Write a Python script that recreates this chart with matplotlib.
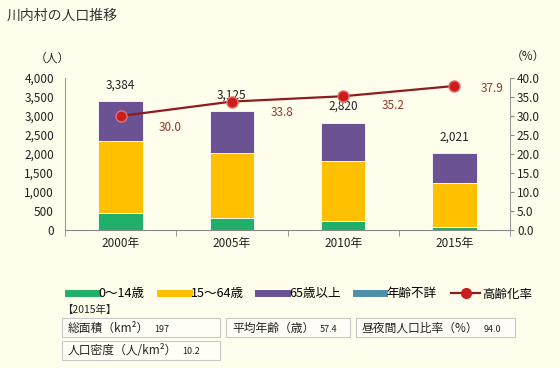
import matplotlib
matplotlib.use('Agg')
import matplotlib.pyplot as plt
from matplotlib.lines import Line2D
from matplotlib.patches import Rectangle
import numpy as np

plt.rcParams['font.family'] = ['Noto Sans CJK JP', 'DejaVu Sans']

# data
years = ['2000年', '2005年', '2010年', '2015年']
age_0_14 = [455, 306, 245, 70]
age_15_64 = [1890, 1733, 1558, 1155]
age_65 = [1039, 1086, 1017, 796]
age_unknown = [0, 0, 0, 0]
totals = [3384, 3125, 2820, 2021]
aging_rate = [30.0, 33.8, 35.2, 37.9]
left_ticks = [0, 500, 1000, 1500, 2000, 2500, 3000, 3500, 4000]
right_ticks = [0, 5, 10, 15, 20, 25, 30, 35, 40]
info_labels = ['総面積（km²）', '平均年齢（歳）', '昼夜間人口比率（%）', '人口密度（人/km²）']
info_values = ['197', '57.4', '94.0', '10.2']

bg = '#FFFDEC'
c_green = '#20B06A'
c_yellow = '#FFC000'
c_purple = '#6A5293'
c_teal = '#4E8EA8'
c_line = '#8E1C1C'
c_mark = '#C81E1E'

W, H = 560, 368
fig = plt.figure(figsize=(5.6, 3.68), dpi=100, facecolor=bg)
ax = fig.add_axes([65 / W, 1 - 230 / H, 445 / W, 152 / H], facecolor=bg)

x = np.arange(len(years))
bw = 0.4
b0 = np.array(age_0_14)
b1 = b0 + np.array(age_15_64)
b2 = b1 + np.array(age_65)
ax.bar(x, age_0_14, bw, color=c_green, edgecolor='white', linewidth=0.6)
ax.bar(x, age_15_64, bw, bottom=b0, color=c_yellow, edgecolor='white', linewidth=0.6)
ax.bar(x, age_65, bw, bottom=b1, color=c_purple, edgecolor='white', linewidth=0.6)
ax.bar(x, age_unknown, bw, bottom=b2, color=c_teal)
for xi, t in zip(x, totals):
    ax.annotate(f'{t:,}', (xi, t), xytext=(0, 7), textcoords='offset points',
                ha='center', va='bottom', fontsize=8.5, color='#222222')

ax.set_xlim(-0.5, len(years) - 0.5)
ax.set_ylim(0, 4000)
ax.set_yticks(left_ticks)
ax.set_yticklabels([f'{v:,}' for v in left_ticks], fontsize=8.5, color='#222222')
ax.tick_params(axis='y', length=0, pad=8)
ax.set_xticks(x)
ax.set_xticklabels(years, fontsize=8.5, color='#222222')
ax.tick_params(axis='x', length=0, pad=5)
ax.set_xticks(np.arange(-0.5, len(years)), minor=True)
ax.tick_params(axis='x', which='minor', length=4, color='#888888')
for s in ['top', 'right']:
    ax.spines[s].set_visible(False)
ax.spines['left'].set_color('#999999')
ax.spines['bottom'].set_color('#888888')

ax2 = ax.twinx()
ax2.set_ylim(0, 40)
ax2.set_yticks(right_ticks)
ax2.set_yticklabels([f'{v:.1f}' for v in right_ticks], fontsize=8.5, color='#222222')
ax2.tick_params(axis='y', length=3, color='#888888', pad=2)
for s in ['top', 'left', 'bottom']:
    ax2.spines[s].set_visible(False)
ax2.spines['right'].set_color('#999999')
ax2.plot(x, aging_rate, color=c_line, lw=1.6, marker='o', markersize=8,
         markerfacecolor=c_mark, markeredgecolor='#E87070', markeredgewidth=1, zorder=5)
offsets = [(36, -8), (36, -8), (36, -7), (27, -2)]
for xi, r, off in zip(x, aging_rate, offsets):
    ax2.annotate(f'{r:.1f}', (xi, r), xytext=off, textcoords='offset points',
                 ha='center', va='center', fontsize=8.5, color='#8E3A2A')

fig.text(7 / W, 1 - 16 / H, '川内村の人口推移', fontsize=10, color='#333333', va='center')
fig.text(52 / W, 1 - 58 / H, '（人）', fontsize=8.5, color='#222222', ha='center', va='center')
fig.text(528 / W, 1 - 56 / H, '（%）', fontsize=8.5, color='#222222', ha='center', va='center')

handles = [
    Line2D([], [], color=c_green, lw=5),
    Line2D([], [], color=c_yellow, lw=5),
    Line2D([], [], color=c_purple, lw=5),
    Line2D([], [], color=c_teal, lw=5),
    Line2D([], [], color=c_line, lw=1.6, marker='o', markersize=7, markerfacecolor=c_mark,
           markeredgecolor=c_mark),
]
labels = ['0～14歳', '15～64歳', '65歳以上', '年齢不詳', '高齢化率']
fig.legend(handles, labels, loc='center', bbox_to_anchor=(300 / W, 1 - 294 / H), ncol=5,
           frameon=False, fontsize=9, handlelength=2.3, handletextpad=0.15,
           columnspacing=1.2)

fig.text(62 / W, 1 - 310 / H, '【2015年】', fontsize=7.5, color='#222222', va='center')
boxes = [(62, 318, 158), (226, 318, 124), (356, 318, 159), (62, 341, 158)]
for (bx, by, bwid), lab, val in zip(boxes, info_labels, info_values):
    fig.patches.append(Rectangle((bx / W, 1 - (by + 19) / H), bwid / W, 19 / H,
                                 transform=fig.transFigure, facecolor='#FFFEF6',
                                 edgecolor='#C8C8C8', lw=0.8))
    t = fig.text((bx + 6) / W, 1 - (by + 10) / H, lab, fontsize=8.5, color='#222222', va='center')
    fig.canvas.draw()
    bb = t.get_window_extent()
    fig.text((bb.x1 + 5) / W, 1 - (by + 11) / H, val, fontsize=6.5, color='#222222', va='center')

fig.savefig('out.png', dpi=100, facecolor=bg)
